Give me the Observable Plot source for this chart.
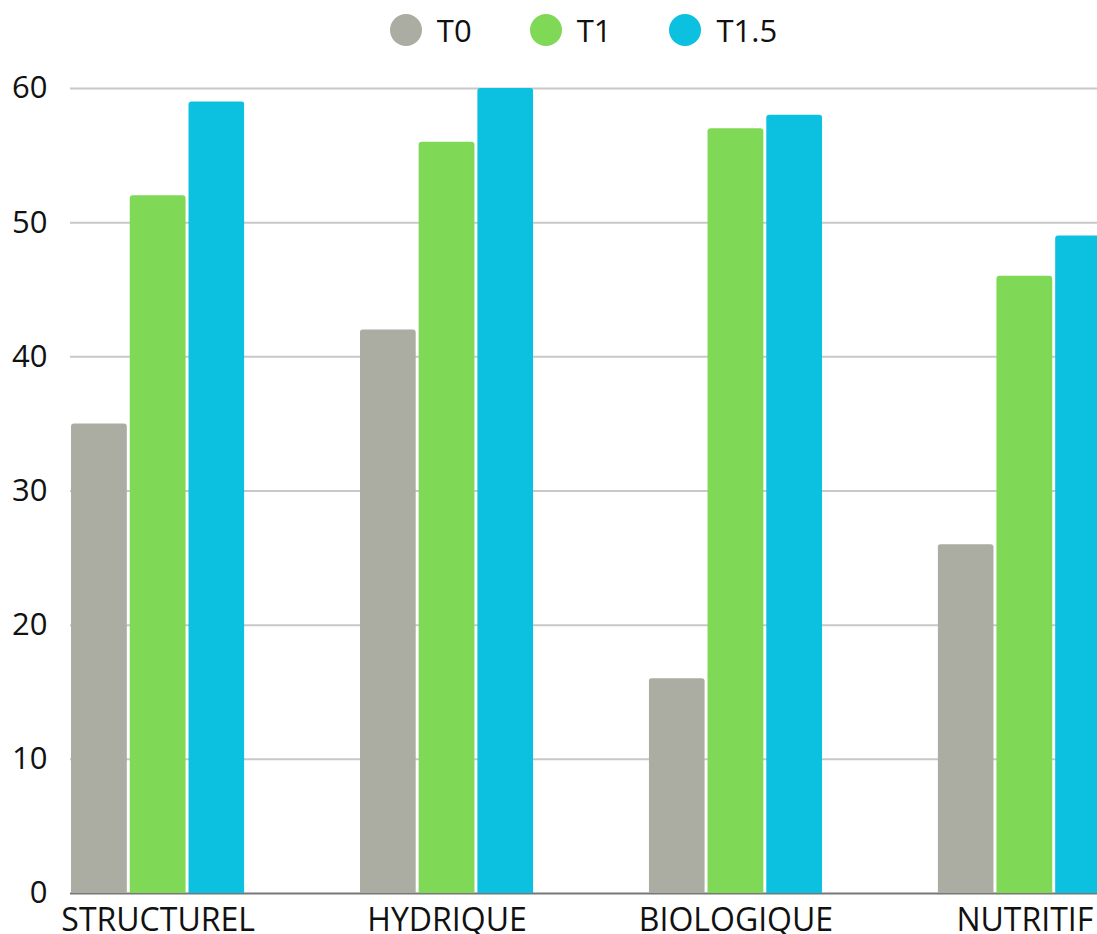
<!DOCTYPE html>
<html>
<head>
<meta charset="utf-8">
<script src="https://cdn.jsdelivr.net/npm/d3@7"></script>
<script src="https://cdn.jsdelivr.net/npm/@observablehq/plot@0.6"></script>
<style>
  html, body { margin: 0; padding: 0; background: #fff; }
  body { width: 1097px; height: 934px; overflow: hidden; font-family: "Open Sans", sans-serif; }
  #legend { height: 60px; box-sizing: border-box; padding-left: 70px; display: flex; justify-content: center; align-items: center; font-size: 31px; color: #111; }
  .item { display: flex; align-items: center; margin-right: 58px; }
  .item:last-child { margin-right: 0; }
  .dot { width: 32px; height: 32px; border-radius: 50%; margin-right: 15px; }
  svg { display: block; }
</style>
</head>
<body>
<div id="legend"></div>
<div id="chart"></div>
<script>
const categories = ["STRUCTUREL", "HYDRIQUE", "BIOLOGIQUE", "NUTRITIF"];
const series = ["T0", "T1", "T1.5"];
const valuesT0 = [35, 42, 16, 26];
const valuesT1 = [52, 56, 57, 46];
const valuesT15 = [59, 60, 58, 49];
const colors = ["#abada3", "#7fd957", "#0cc0df"];
const yTicks = [0, 10, 20, 30, 40, 50, 60];

const seriesValues = [valuesT0, valuesT1, valuesT15];
const data = [];
categories.forEach((c, i) => {
  series.forEach((s, j) => data.push({cat: c, series: s, value: seriesValues[j][i]}));
});
// gridlines and baseline drawn once, from the first facet, spanning the whole width
const gridRows = yTicks.slice(1).map(v => ({cat: categories[0], v}));
const baseRows = [{cat: categories[0], v: 0}];

// Legend
const legend = document.getElementById("legend");
series.forEach((s, j) => {
  const it = document.createElement("div");
  it.className = "item";
  const dot = document.createElement("span");
  dot.className = "dot";
  dot.style.background = colors[j];
  const t = document.createElement("span");
  t.textContent = s;
  it.appendChild(dot); it.appendChild(t);
  legend.appendChild(it);
});

const chart = Plot.plot({
  width: 1097,
  height: 874,
  marginTop: 28,
  marginBottom: 41,
  marginLeft: 70,
  marginRight: 0,
  style: {fontFamily: "'Open Sans', sans-serif", fontSize: "32px", color: "#111", background: "white", overflow: "hidden"},
  fx: {domain: categories, range: [71, 1111], paddingInner: 0.4, paddingOuter: 0, round: false, label: null, tickSize: 0, tickPadding: 15},
  x: {domain: series, paddingInner: 0.05, paddingOuter: 0, round: false, axis: null},
  y: {domain: [0, 60], ticks: yTicks, tickSize: 0, tickPadding: 24, label: null},
  color: {domain: series, range: colors},
  marks: [
    Plot.ruleY(gridRows, {fx: "cat", y: "v", stroke: "#c8c8c8", strokeWidth: 2, insetLeft: -1, insetRight: -1100}),
    Plot.ruleY(baseRows, {fx: "cat", y: "v", stroke: "#777", strokeWidth: 2, insetLeft: -1, insetRight: -1100}),
    Plot.barY(data, {fx: "cat", x: "series", y: "value", fill: "series", rx: 3, insetBottom: -5, clip: true})
  ]
});
chart.querySelectorAll("g[aria-label='y-axis tick label']").forEach(g => g.setAttribute("font-size", "31"));
document.getElementById("chart").appendChild(chart);
</script>
</body>
</html>
